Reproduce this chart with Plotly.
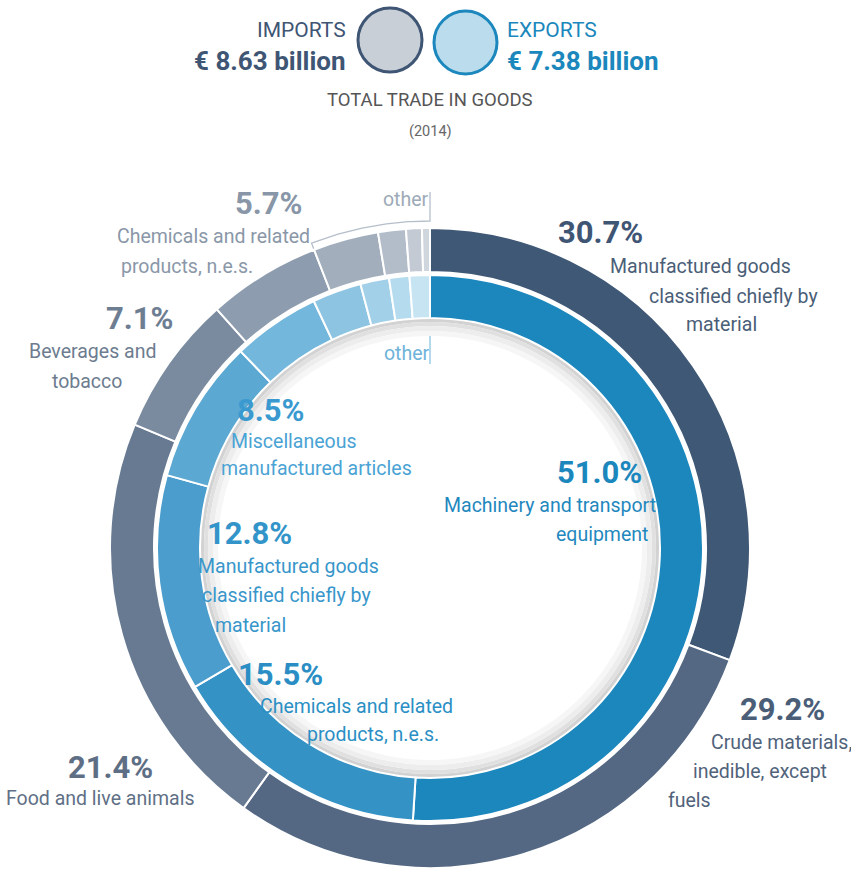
import numpy as np
import plotly.graph_objects as go

# ---------------- data ----------------
import_categories = [
    "Manufactured goods classified chiefly by material",
    "Crude materials, inedible, except fuels",
    "Food and live animals",
    "Beverages and tobacco",
    "Chemicals and related products, n.e.s.",
    "Other (a)", "Other (b)", "Other (c)", "Other (d)",
]
import_shares = [30.7, 29.2, 21.4, 7.1, 5.7, 3.3, 1.4, 0.8, 0.4]

export_categories = [
    "Machinery and transport equipment",
    "Chemicals and related products, n.e.s.",
    "Manufactured goods classified chiefly by material",
    "Miscellaneous manufactured articles",
    "Other (a)", "Other (b)", "Other (c)", "Other (d)", "Other (e)",
]
export_shares = [51.0, 15.5, 12.8, 8.5, 5.2, 2.9, 1.7, 1.2, 1.2]

import_total = "€ 8.63 billion"
export_total = "€ 7.38 billion"
year = "2014"

# ---------------- styling ----------------
W, H = 851, 886
CX, CY = 430, 548
R_OUT, R_OUT_IN = 320, 276
R_IN, R_IN_IN = 273, 230

import_colors = ["#3f5876", "#546883", "#677a92", "#7a8ba0", "#8d9caf",
                 "#a2aebc", "#b3bdc9", "#c3cad4", "#d0d6dd"]
export_colors = ["#1b87bd", "#3592c5", "#4a9dcc", "#5ba8d2", "#74b7dc",
                 "#8cc4e2", "#a2d0e8", "#b5dbee", "#c7e4f2"]

FONT = "Roboto, sans-serif"
LBL = 19.5
PCT = 31


def dom(r):
    return dict(x=[(CX - r) / W, (CX + r) / W], y=[(H - CY - r) / H, (H - CY + r) / H])


def pt(a_deg, r):
    a = np.radians(a_deg)
    return CX + r * np.sin(a), CY - r * np.cos(a)


fig = go.Figure()

# shadow rings inside the inner donut
for r0, r1, c in [(R_IN_IN, 226, "#d2d2d2"), (226, 222, "#e0e0e0"), (222, 217, "#ededed"), (217, 212, "#f6f6f6")]:
    fig.add_trace(go.Pie(values=[1], labels=["shadow"], marker=dict(colors=[c]),
                         hole=r1 / r0, domain=dom(r0), textinfo="none",
                         hoverinfo="skip", showlegend=False, sort=False))

fig.add_trace(go.Pie(
    values=import_shares, labels=import_categories, name="Imports",
    marker=dict(colors=import_colors, line=dict(color="white", width=2)),
    hole=R_OUT_IN / R_OUT, domain=dom(R_OUT), sort=False, direction="clockwise",
    rotation=0, textinfo="none", showlegend=False))

fig.add_trace(go.Pie(
    values=export_shares, labels=export_categories, name="Exports",
    marker=dict(colors=export_colors, line=dict(color="white", width=2)),
    hole=R_IN_IN / R_IN, domain=dom(R_IN), sort=False, direction="clockwise",
    rotation=0, textinfo="none", showlegend=False))

# brackets marking "other"
imp_a0 = sum(import_shares[:5]) / sum(import_shares) * 360
exp_a0 = sum(export_shares[:4]) / sum(export_shares) * 360

arc = np.linspace(imp_a0, 360, 40)
bx, by = [pt(imp_a0, 318)[0]], [pt(imp_a0, 318)[1]]
for a in arc:
    x, y = pt(a, 327)
    bx.append(x); by.append(y)
bx.append(CX); by.append(192)
fig.add_trace(go.Scatter(x=bx, y=by, mode="lines", line=dict(color="#b5bfca", width=1.3),
                         hoverinfo="skip", showlegend=False))

arc = np.linspace(exp_a0, 360, 40)
bx, by = [pt(exp_a0, R_IN_IN)[0]], [pt(exp_a0, R_IN_IN)[1]]
for a in arc:
    x, y = pt(a, 223)
    bx.append(x); by.append(y)
bx.append(CX); by.append(364)
fig.add_trace(go.Scatter(x=bx, y=by, mode="lines", line=dict(color="#8cc4e2", width=1.3),
                         hoverinfo="skip", showlegend=False))

# ---------------- texts ----------------
def pct(v):
    return f"{v:.1f}%"

ann = []
def T(text, x, y, size, color, bold=False, anchor="center"):
    ann.append(dict(text=f"<b>{text}</b>" if bold else text, x=x, y=y, xref="x", yref="y",
                    xanchor=anchor, yanchor="middle", showarrow=False,
                    font=dict(family=FONT, size=size, color=color)))

# header
T("IMPORTS", 348, 30, 21, "#3f5574", anchor="right")
T(import_total, 348, 61, 26, "#3f5574", bold=True, anchor="right")
T("EXPORTS", 505, 30, 21, "#1b87bd", anchor="left")
T(export_total, 505, 61, 26, "#1b87bd", bold=True, anchor="left")
T("TOTAL TRADE IN GOODS", 430, 100, 18.5, "#555555")
T(f"({year})", 430, 131, 14.5, "#666666")

# imports labels
T(pct(import_shares[0]), 600, 232, PCT, "#3f5574", bold=True)
T("Manufactured goods", 700, 266, LBL, "#4a5e78")
T("classified chiefly by", 733, 296, LBL, "#4a5e78")
T("material", 721, 324, LBL, "#4a5e78")

T(pct(import_shares[1]), 782, 709, PCT, "#4b5e78", bold=True)
T("Crude materials,", 781, 742, LBL, "#51637b")
T("inedible, except", 760, 771, LBL, "#51637b")
T("fuels", 689, 800, LBL, "#51637b")

T(pct(import_shares[2]), 110, 767, PCT, "#5e6f85", bold=True)
T("Food and live animals", 100, 798, LBL, "#607086")

T(pct(import_shares[3]), 139, 318, PCT, "#6e7e92", bold=True)
T("Beverages and", 92, 351, LBL, "#6d7c8f")
T("tobacco", 87, 381, LBL, "#6d7c8f")

T(pct(import_shares[4]), 268, 203, PCT, "#8896a8", bold=True)
T("Chemicals and related", 213, 236, LBL, "#8a97a8")
T("products, n.e.s.", 187, 266, LBL, "#8a97a8")

T("other", 406, 199, LBL, "#9daab8")

# exports labels
T(pct(export_shares[0]), 599, 472, PCT, "#1b87bd", bold=True)
T("Machinery and transport", 550, 505, LBL, "#1f88be")
T("equipment", 602, 534, LBL, "#1f88be")

T(pct(export_shares[1]), 280, 674, PCT, "#2a8ec4", bold=True)
T("Chemicals and related", 356, 706, LBL, "#2a8fc4")
T("products, n.e.s.", 373, 734, LBL, "#2a8fc4")

T(pct(export_shares[2]), 249, 533, PCT, "#3394c9", bold=True)
T("Manufactured goods", 288, 566, LBL, "#3896ca")
T("classified chiefly by", 286, 595, LBL, "#3896ca")
T("material", 250, 625, LBL, "#3896ca")

T(pct(export_shares[3]), 270, 410, PCT, "#3a9ad0", bold=True)
T("Miscellaneous", 294, 441, LBL, "#4aa3d4")
T("manufactured articles", 316, 468, LBL, "#4aa3d4")

T("other", 407, 353, LBL, "#6db3da")

shapes = [
    dict(type="circle", xref="x", yref="y", x0=358, x1=422, y0=8, y1=72,
         fillcolor="#c8cfd7", line=dict(color="#3f5574", width=3)),
    dict(type="circle", xref="x", yref="y", x0=434, x1=497, y0=11, y1=74,
         fillcolor="#badced", line=dict(color="#1b87bd", width=3)),
]

fig.update_layout(
    width=W, height=H, margin=dict(l=0, r=0, t=0, b=0),
    paper_bgcolor="white", plot_bgcolor="white",
    xaxis=dict(range=[0, W], visible=False, fixedrange=True, domain=[0, 1]),
    yaxis=dict(range=[H, 0], visible=False, fixedrange=True, domain=[0, 1]),
    annotations=ann, shapes=shapes, showlegend=False,
)

fig.write_html("out.html", config={"displayModeBar": False},
               post_script="document.body.style.margin='0';")
